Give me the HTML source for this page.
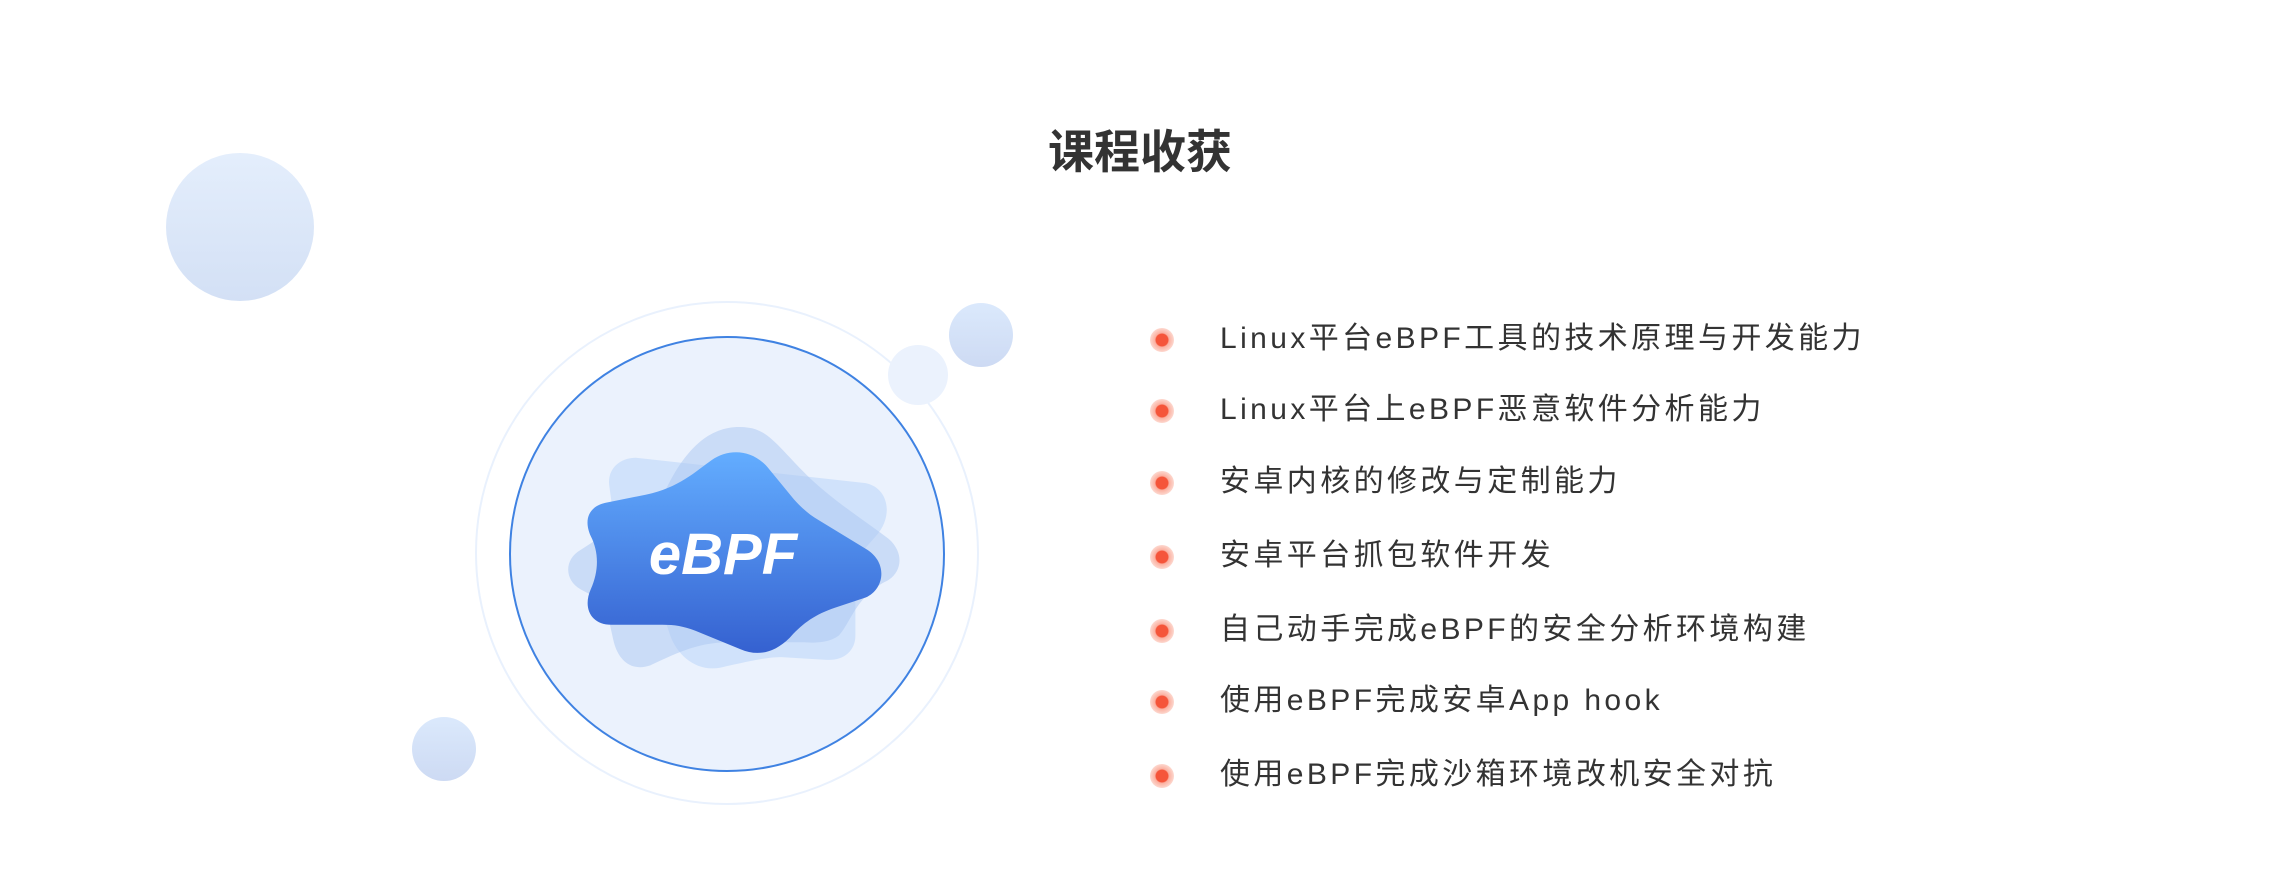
<!DOCTYPE html>
<html><head><meta charset="utf-8"><style>
html,body{margin:0;padding:0;background:#fff;}
body{width:2280px;height:892px;position:relative;overflow:hidden;font-family:"Liberation Sans","Noto Sans CJK SC",sans-serif;}
.title{position:absolute;left:1040px;top:124px;width:200px;text-align:center;font-size:46px;font-weight:bold;color:#333;line-height:56px;}
.item{position:absolute;left:1220px;font-size:30px;letter-spacing:3.4px;color:#333;line-height:36px;white-space:nowrap;}
.dot{position:absolute;width:24px;height:24px;border-radius:50%;background:radial-gradient(circle,#f5553a 0,#f5553a 6px,#fbb0a0 7px,#fdd8cf 12px,rgba(255,255,255,0) 12.5px);}
.ebpf{position:absolute;left:638px;top:520px;width:170px;text-align:center;font-family:"Liberation Sans",sans-serif;font-weight:bold;font-style:italic;font-size:58px;color:#fff;line-height:70px;}
</style></head><body>
<svg width="2280" height="892" style="position:absolute;left:0;top:0">
<defs>
<linearGradient id="c1" x1="0" y1="0" x2="0" y2="1"><stop offset="0" stop-color="#e4eefc"/><stop offset="1" stop-color="#d3e0f5"/></linearGradient>
<linearGradient id="c2" x1="0" y1="0" x2="0" y2="1"><stop offset="0" stop-color="#dbe9fc"/><stop offset="1" stop-color="#cddaf3"/></linearGradient>
</defs>
<circle cx="240" cy="227" r="74" fill="url(#c1)"/>
<circle cx="727" cy="553" r="251" fill="none" stroke="#e9f1fd" stroke-width="2"/>
<circle cx="727" cy="554" r="217" fill="#ebf2fd" stroke="#3f82e2" stroke-width="2"/>
<circle cx="918" cy="375" r="30" fill="#ebf2fd"/>
<circle cx="981" cy="335" r="32" fill="url(#c2)"/>
<circle cx="444" cy="749" r="32" fill="url(#c2)"/>
</svg>
<svg viewBox="0 0 1560 1560" preserveAspectRatio="none" style="position:absolute;left:400px;top:100px;width:640px;height:720px">
<defs><linearGradient id="mb" x1="0" y1="0" x2="0" y2="1"><stop offset="0" stop-color="#63adff"/><stop offset="1" stop-color="#3561d0"/></linearGradient></defs>
<path d="M575 775 L1135 830 C1190 840 1205 900 1160 945 L1130 975 C1115 1000 1110 1020 1110 1050 L1110 1160 C1110 1195 1080 1215 1040 1213 L930 1207 C900 1207 870 1212 780 1230 C720 1240 670 1200 655 1150 L620 1060 C600 1010 540 1000 520 900 L510 835 C505 800 535 775 575 775 Z" fill="#b9d5fa" opacity="0.55"/>
<path d="M440 975 L640 860 C700 740 770 700 850 710 C900 715 930 760 1000 820 C1060 870 1130 910 1190 950 C1235 985 1220 1030 1180 1045 C1110 1080 1100 1130 1070 1160 C1040 1180 1000 1175 980 1175 L800 1175 C720 1175 660 1205 610 1225 C560 1240 530 1210 520 1170 L505 1110 C490 1080 470 1075 440 1060 C400 1040 400 995 440 975 Z" fill="#a9c6f2" opacity="0.5"/>
<path d="M500 873 L600 855 C680 840 720 805 760 780 C800 755 860 755 900 800 L960 865 C980 885 1000 900 1020 910 L1140 975 C1190 1005 1180 1060 1135 1078 L1060 1100 C1010 1115 980 1135 950 1165 C910 1200 870 1205 830 1190 L720 1150 C690 1140 670 1137 640 1137 L515 1137 C465 1137 445 1100 465 1060 C485 1020 485 980 465 945 C445 905 465 880 500 873 Z" fill="url(#mb)"/>
</svg>
<div class="ebpf">eBPF</div>
<div class="title">课程收获</div>
<div class="dot" style="left:1150px;top:328px"></div><div class="item" style="top:321px">Linux平台eBPF工具的技术原理与开发能力</div>
<div class="dot" style="left:1150px;top:399px"></div><div class="item" style="top:392px">Linux平台上eBPF恶意软件分析能力</div>
<div class="dot" style="left:1150px;top:471px"></div><div class="item" style="top:464px">安卓内核的修改与定制能力</div>
<div class="dot" style="left:1150px;top:545px"></div><div class="item" style="top:538px">安卓平台抓包软件开发</div>
<div class="dot" style="left:1150px;top:619px"></div><div class="item" style="top:612px">自己动手完成eBPF的安全分析环境构建</div>
<div class="dot" style="left:1150px;top:690px"></div><div class="item" style="top:683px">使用eBPF完成安卓App hook</div>
<div class="dot" style="left:1150px;top:764px"></div><div class="item" style="top:757px">使用eBPF完成沙箱环境改机安全对抗</div>
</body></html>
